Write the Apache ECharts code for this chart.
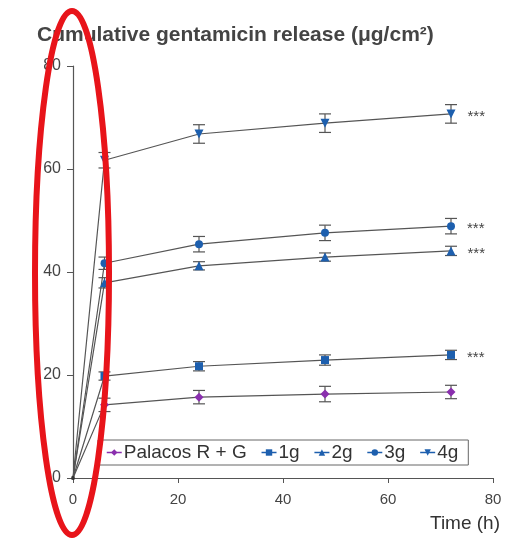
<!DOCTYPE html>
<html><head><meta charset="utf-8">
<script src="https://cdn.jsdelivr.net/npm/echarts@6/dist/echarts.min.js"></script>
<style>html,body{margin:0;padding:0;background:#fff}#c{width:510px;height:541px}</style>
</head><body><div id="c"></div>
<script>
var times = [0, 6, 24, 48, 72];
var seriesNames = ['Palacos R + G', '1g', '2g', '3g', '4g'];
var palacos = [0, 14.2, 15.7, 16.3, 16.7];
var g1 = [0, 19.8, 21.7, 22.9, 23.9];
var g2 = [0, 37.9, 41.2, 42.9, 44.1];
var g3 = [0, 41.7, 45.4, 47.6, 48.9];
var g4 = [0, 61.7, 66.8, 68.9, 70.7];
var palacosErr = [0, 1.3, 1.3, 1.5, 1.3];
var g1Err = [0, 0.8, 0.9, 1.0, 0.9];
var g2Err = [0, 1.0, 0.8, 0.8, 0.9];
var g3Err = [0, 1.2, 1.5, 1.5, 1.5];
var g4Err = [0, 1.5, 1.8, 1.8, 1.8];
var significance = ['', '***', '***', '***', '***'];
var xTicks = [0, 20, 40, 60, 80];
var yTicks = [0, 20, 40, 60, 80];

var values = [palacos, g1, g2, g3, g4];
var errs = [palacosErr, g1Err, g2Err, g3Err, g4Err];
var symbols = ['diamond', 'rect', 'triangle', 'circle', 'triangle'];
var rotates = [0, 0, 0, 0, 180];
var sizes = [9, 8, 9, 8, 9];
var colors = ['#8a2fae', '#1d5fae', '#1d5fae', '#1d5fae', '#1d5fae'];

var series = [];
values.forEach(function (vals, si) {
  var data = times.map(function (t, i) {
    var d = { value: [t, vals[i]] };
    if (i === 0) { d.symbolSize = 3; d.itemStyle = { color: '#333' }; }
    if (i === times.length - 1 && significance[si]) {
      d.label = { show: true, position: 'right', distance: 12, formatter: significance[si],
        color: '#444', fontSize: 15, fontFamily: 'Liberation Sans', offset: [0, 3] };
    }
    return d;
  });
  series.push({
    name: seriesNames[si], type: 'line', data: data,
    symbol: symbols[si], symbolRotate: rotates[si], symbolSize: sizes[si],
    lineStyle: { color: '#555', width: 1.2 },
    itemStyle: { color: colors[si] },
    z: 3
  });
  var eb = times.map(function (t, i) { return [t, vals[i] - errs[si][i], vals[i] + errs[si][i]]; }).slice(1);
  series.push({
    type: 'custom', data: eb, z: 2, silent: true,
    renderItem: function (params, api) {
      var lo = api.coord([api.value(0), api.value(1)]);
      var hi = api.coord([api.value(0), api.value(2)]);
      var w = 6;
      var st = { stroke: '#555', lineWidth: 1.2 };
      return { type: 'group', children: [
        { type: 'line', shape: { x1: lo[0], y1: lo[1], x2: hi[0], y2: hi[1] }, style: st },
        { type: 'line', shape: { x1: lo[0] - w, y1: lo[1], x2: lo[0] + w, y2: lo[1] }, style: st },
        { type: 'line', shape: { x1: hi[0] - w, y1: hi[1], x2: hi[0] + w, y2: hi[1] }, style: st }
      ]};
    }
  });
});

var legendData = seriesNames.map(function (n, i) {
  return { name: n, lineStyle: { color: colors[i], width: 1.5 } };
});

var chart = echarts.init(document.getElementById('c'));
chart.setOption({
  animation: false,
  textStyle: { fontFamily: 'Liberation Sans' },
  grid: { left: 73, right: 17, top: 66, bottom: 63 },
  xAxis: {
    type: 'value', min: xTicks[0], max: xTicks[xTicks.length - 1], interval: 20,
    axisLine: { lineStyle: { color: '#555', width: 1.2 } },
    axisTick: { show: true, length: 5, lineStyle: { color: '#555' } },
    axisLabel: { color: '#444', fontSize: 15, margin: 14 },
    splitLine: { show: false }
  },
  yAxis: {
    type: 'value', min: yTicks[0], max: yTicks[yTicks.length - 1], interval: 20,
    axisLine: { show: true, lineStyle: { color: '#555', width: 1.2 } },
    axisTick: { show: true, length: 6, lineStyle: { color: '#555' } },
    axisLabel: { color: '#444', fontSize: 16, margin: 12 },
    splitLine: { show: false }
  },
  legend: {
    data: legendData, left: 98, top: 440, width: 370,
    padding: [3, 10, 3, 8], itemGap: 14, itemWidth: 15, itemHeight: 8,
    borderColor: '#666', borderWidth: 1,
    textStyle: { color: '#333', fontSize: 19, fontFamily: 'Liberation Sans', padding: [0, 0, 0, -3] }
  },
  graphic: [
    { type: 'text', left: 37, top: 25, style: { text: 'Cumulative gentamicin release (μg/cm²)', fill: '#444', font: 'bold 21px Liberation Sans' } },
    { type: 'text', right: 10, top: 514, style: { text: 'Time (h)', fill: '#333', font: '19px Liberation Sans' } },
    { type: 'ellipse', shape: { cx: 72, cy: 273, rx: 37, ry: 262 }, style: { fill: 'none', stroke: '#e8141a', lineWidth: 6 }, z: 100 }
  ],
  series: series
});
</script></body></html>
